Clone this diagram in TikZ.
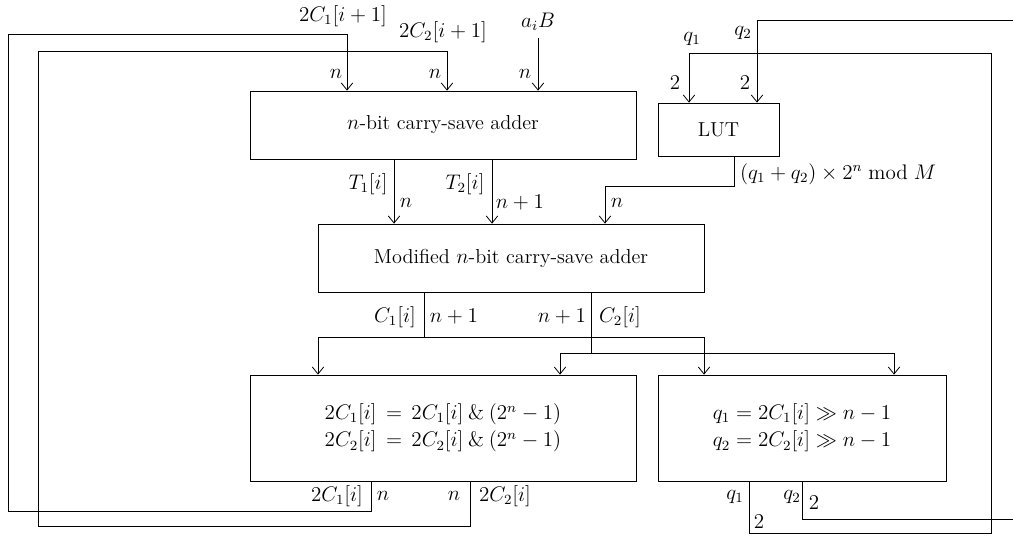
\documentclass[tikz,border=0pt]{standalone}
\usepackage{amsmath,amssymb}
\usetikzlibrary{arrows.meta, positioning, calc}
\newcommand{\lblsize}{\fontsize{11.5}{15.5}\selectfont}

\begin{document}
\begin{tikzpicture}[x=0.02cm, y=-0.02cm, line width=0.45pt,
  block/.style={draw, font=\lblsize, align=center},
  lbl/.style={font=\lblsize, inner sep=1pt},
  flow/.style={-{Straight Barb[length=4pt,width=6.5pt]}}]
  \useasboundingbox (0,0) rectangle (1013,536);
  % blocks
  \node[block, minimum width=7.72cm, minimum height=1.36cm] (csa) at (443,125) {$n$-bit carry-save adder};
  \node[block, minimum width=2.42cm, minimum height=1.06cm] (lut) at (718.5,129.5) {LUT};
  \node[block, minimum width=7.72cm, minimum height=1.36cm] (mcsa) at (511,258) {Modified $n$-bit carry-save adder};
  \node[block, minimum width=7.72cm, minimum height=2.12cm] (mask) at (443,428)
    {$2C_1[i]\,=\,2C_1[i]\mathbin{\&}(2^n-1)$\\ $2C_2[i]\,=\,2C_2[i]\mathbin{\&}(2^n-1)$};
  \node[block, minimum width=5.76cm, minimum height=2.12cm] (shift) at (802,428)
    {$q_1=2C_1[i]\gg n-1$\\ $q_2=2C_2[i]\gg n-1$};

  % taps and bends
  \coordinate (aib) at (538,38);
  \coordinate (fbA) at (347,34);   \coordinate (fbB) at (447,51);
  \coordinate (loopA) at (8,511);  \coordinate (loopB) at (38,526);
  \coordinate (outA) at (371,0);   \coordinate (outB) at (470,0);
  \coordinate (t1) at (394,0);     \coordinate (t2) at (492,0);
  \coordinate (lutout) at (734,0); \coordinate (lutbend) at (605,186);
  \coordinate (c1) at (424,337);   \coordinate (c2) at (591,353);
  \coordinate (m1) at (318,0);     \coordinate (m2) at (560,0);
  \coordinate (s1) at (704,0);     \coordinate (s2) at (894,0);
  \coordinate (q1out) at (749,0);  \coordinate (q2out) at (802,0);
  \coordinate (qA) at (991,533);   \coordinate (qAtop) at (689,53);
  \coordinate (qB) at (1016,519);  \coordinate (qBtop) at (757,20);

  % inputs of the first adder
  \draw[flow] (aib) -- (csa.north -| aib);
  \draw[flow] (mask.south -| outA) |- (loopA) |- (fbA) -- (csa.north -| fbA);
  \draw[flow] (mask.south -| outB) |- (loopB) |- (fbB) -- (csa.north -| fbB);
  % into the modified adder
  \draw[flow] (csa.south -| t1) -- (mcsa.north -| t1);
  \draw[flow] (csa.south -| t2) -- (mcsa.north -| t2);
  \draw[flow] (lut.south -| lutout) |- (lutbend) -- (mcsa.north -| lutbend);
  % carries fan out
  \draw (mcsa.south -| c1) -- (c1);
  \draw[flow] (c1) -| (mask.north -| m1);
  \draw[flow] (c1) -| (shift.north -| s1);
  \draw (mcsa.south -| c2) -- (c2);
  \draw[flow] (c2) -| (mask.north -| m2);
  \draw[flow] (c2) -| (shift.north -| s2);
  % q1, q2 back to the LUT
  \draw[flow] (shift.south -| q1out) |- (qA) |- (qAtop) -- (lut.north -| qAtop);
  \begin{scope}
    \clip (0,0) rectangle (1013,536);
    \draw[flow] (shift.south -| q2out) |- (qB) |- (qBtop) -- (lut.north -| qBtop);
  \end{scope}

  % labels
  \node[lbl] (lc1next) at (343,16) {$2C_1[i+1]$};
  \node[lbl] (lc2next) at (443,32) {$2C_2[i+1]$};
  \node[lbl] (laib) at (538,22) {$a_iB$};
  \node[lbl] (ln1) at (336,74) {$n$};
  \node[lbl] (ln2) at (435,74) {$n$};
  \node[lbl] (ln3) at (525,74) {$n$};
  \node[lbl] (lq1top) at (692,39) {$q_1$};
  \node[lbl] (lq2top) at (743,33) {$q_2$};
  \node[lbl] (lw1) at (675,83) {$2$};
  \node[lbl] (lw2) at (745,83) {$2$};
  \node[lbl] (lt1) at (368,184) {$T_1[i]$};
  \node[lbl] (lt2) at (465,184) {$T_2[i]$};
  \node[lbl] (lnt1) at (406,203) {$n$};
  \node[lbl] (lnt2) at (520,203) {$n+1$};
  \node[lbl] (lnlut) at (617,203) {$n$};
  \node[lbl] (llut) at (838,174) {$(q_1+q_2)\times 2^n \bmod M$};
  \node[lbl] (lc1) at (395,317) {$C_1[i]$};
  \node[lbl] (lnc1) at (454,317) {$n+1$};
  \node[lbl] (lnc2) at (562,317) {$n+1$};
  \node[lbl] (lc2) at (620,317) {$C_2[i]$};
  \node[lbl] (lc1out) at (337,496) {$2C_1[i]$};
  \node[lbl] (lnout1) at (383,496) {$n$};
  \node[lbl] (lnout2) at (454,496) {$n$};
  \node[lbl] (lc2out) at (505,496) {$2C_2[i]$};
  \node[lbl] (lq1out) at (735,497) {$q_1$};
  \node[lbl] (lw1out) at (759,522) {$2$};
  \node[lbl] (lq2out) at (792,497) {$q_2$};
  \node[lbl] (lw2out) at (814,503) {$2$};
\end{tikzpicture}
\end{document}
